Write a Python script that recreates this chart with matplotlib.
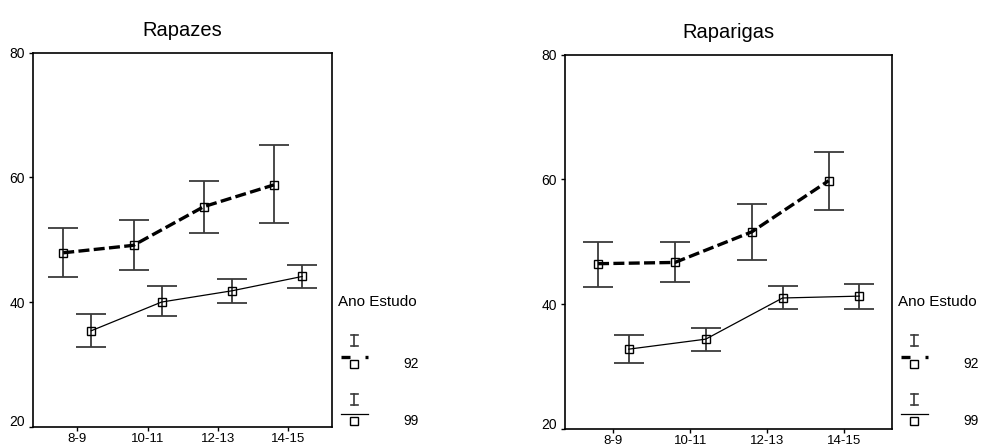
import matplotlib
matplotlib.use('Agg')
import matplotlib.pyplot as plt
import matplotlib.transforms as mtrans
import numpy as np

plt.rcParams['font.family'] = ['Liberation Sans', 'DejaVu Sans']

categories = ['8-9', '10-11', '12-13', '14-15']
years = ['92', '99']
legend_title = 'Ano Estudo'
titles = ['Rapazes', 'Raparigas']

boys_mean_92 = [47.9, 49.1, 55.3, 58.8]
boys_low_92 = [44.0, 45.1, 51.0, 52.6]
boys_high_92 = [51.8, 53.1, 59.4, 65.2]
boys_mean_99 = [35.4, 40.0, 41.8, 44.1]
boys_low_99 = [32.8, 37.7, 39.9, 42.2]
boys_high_99 = [38.1, 42.6, 43.7, 45.9]

girls_mean_92 = [46.5, 46.7, 51.6, 59.8]
girls_low_92 = [42.8, 43.6, 47.1, 55.1]
girls_high_92 = [50.0, 50.0, 56.1, 64.4]
girls_mean_99 = [32.8, 34.4, 41.0, 41.3]
girls_low_99 = [30.6, 32.5, 39.3, 39.3]
girls_high_99 = [35.0, 36.2, 42.9, 43.2]

W, H = 983, 448
fig = plt.figure(figsize=(W / 100, H / 100), dpi=100)

ERR_C = '#3a3a3a'


def panel(rect, title, m92, l92, h92, m99, l99, h99):
    ax = fig.add_axes(rect)
    x = np.arange(1, len(categories) + 1)
    off = 0.2
    series = [
        (x - off, m92, l92, h92, dict(color='black', lw=2.4, dashes=(3.3, 1.3))),
        (x + off, m99, l99, h99, dict(color='black', lw=0.9, linestyle='-')),
    ]
    for xs, m, lo, hi, lstyle in series:
        m = np.array(m); lo = np.array(lo); hi = np.array(hi)
        ax.errorbar(xs, m, yerr=[m - lo, hi - m], fmt='none', ecolor=ERR_C,
                    elinewidth=1.3, capsize=10.8, capthick=1.3, zorder=2)
        ax.plot(xs, m, zorder=3, **lstyle)
        ax.plot(xs, m, linestyle='none', marker='s', ms=5.2, mfc='none',
                mec='black', mew=1.0, zorder=4)
    ax.set_xlim(0.37, 4.62)
    ax.set_ylim(20, 80)
    ax.set_xticks(x)
    ax.set_xticklabels(categories)
    ax.set_yticks([20, 40, 60, 80])
    ax.tick_params(axis='y', direction='out', length=3, width=1, labelsize=10, pad=3)
    ax.tick_params(axis='x', direction='out', length=3, width=1, labelsize=9.5, pad=1.5)
    for s in ax.spines.values():
        s.set_linewidth(1.2)
    ax.set_title(title, fontsize=14.5, pad=12)
    # shift the lowest y label up slightly as in reference
    lbl = ax.get_yticklabels()[0]
    lbl.set_transform(lbl.get_transform() + mtrans.ScaledTranslation(0, 6 / 100, fig.dpi_scale_trans))
    return ax


panel([33 / W, (H - 426.7) / H, 298.7 / W, 374 / H], titles[0],
      boys_mean_92, boys_low_92, boys_high_92, boys_mean_99, boys_low_99, boys_high_99)
panel([565 / W, (H - 429) / H, 326.7 / W, 374.3 / H], titles[1],
      girls_mean_92, girls_low_92, girls_high_92, girls_mean_99, girls_low_99, girls_high_99)

# manual legends in pixel coordinates
lax = fig.add_axes([0, 0, 1, 1])
lax.set_xlim(0, W)
lax.set_ylim(H, 0)
lax.axis('off')
lax.patch.set_alpha(0)

for dx in (0, 560):
    lax.text(338.3 + dx, 302, legend_title, fontsize=11, ha='left', va='center')
    for (ytop, ybot, yline, ymark, lab, dashed) in [
        (335, 346, 357, 364.3, years[0], True),
        (394, 405, 414, 421, years[1], False),
    ]:
        xc = 354.3 + dx
        lax.plot([xc, xc], [ytop, ybot], color=ERR_C, lw=1.2)
        lax.plot([xc - 3.5, xc + 3.5], [ytop, ytop], color=ERR_C, lw=1.2)
        lax.plot([xc - 3.5, xc + 3.5], [ybot, ybot], color=ERR_C, lw=1.2)
        if dashed:
            lax.plot([341 + dx, 350 + dx], [yline, yline], color='black', lw=2.4, solid_capstyle='butt')
            lax.plot([365 + dx, 368 + dx], [yline, yline], color='black', lw=2.4, solid_capstyle='butt')
        else:
            lax.plot([341 + dx, 368 + dx], [yline, yline], color='black', lw=0.9)
        lax.plot([xc], [ymark], marker='s', ms=5.2, mfc='none', mec='black', mew=1.0)
        lax.text(403 + dx, ymark, lab, fontsize=10, ha='left', va='center')

fig.savefig('out.png', dpi=100)
